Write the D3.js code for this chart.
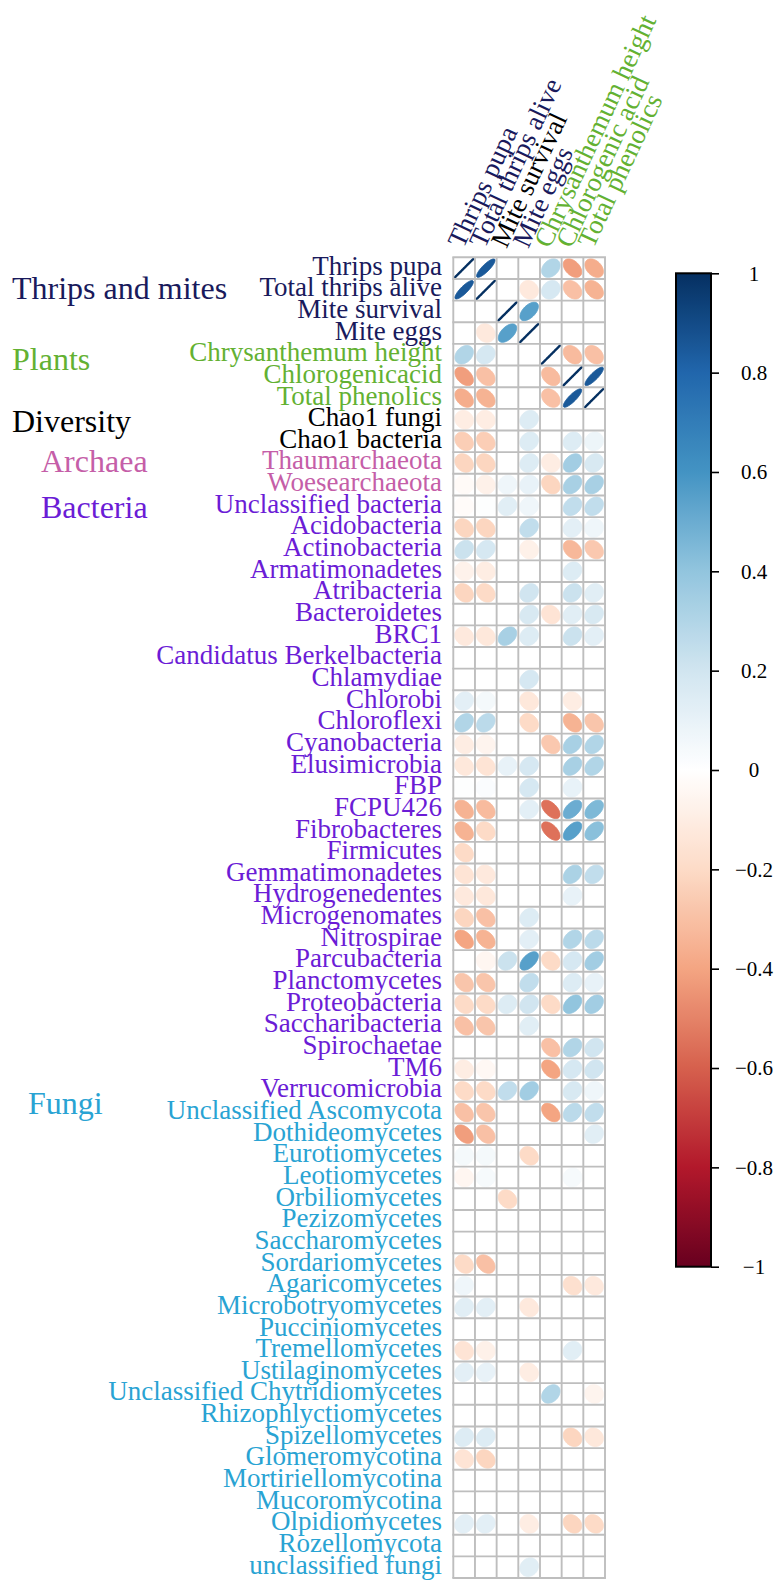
<!DOCTYPE html>
<html><head><meta charset="utf-8">
<script src="https://cdn.jsdelivr.net/npm/d3@7"></script>
<style>
body{margin:0;background:#fff}
svg{display:block}
text{font-family:"Liberation Serif","Times New Roman",serif}
</style>
</head><body>
<svg id="chart" width="776" height="1581"></svg>
<script>
const _ = null;

const rowLabels = ["Thrips pupa","Total thrips alive","Mite survival","Mite eggs",
"Chrysanthemum height","Chlorogenicacid","Total phenolics","Chao1 fungi","Chao1 bacteria",
"Thaumarchaeota","Woesearchaeota","Unclassified bacteria","Acidobacteria","Actinobacteria",
"Armatimonadetes","Atribacteria","Bacteroidetes","BRC1","Candidatus Berkelbacteria","Chlamydiae",
"Chlorobi","Chloroflexi","Cyanobacteria","Elusimicrobia","FBP","FCPU426","Fibrobacteres",
"Firmicutes","Gemmatimonadetes","Hydrogenedentes","Microgenomates","Nitrospirae","Parcubacteria",
"Planctomycetes","Proteobacteria","Saccharibacteria","Spirochaetae","TM6","Verrucomicrobia",
"Unclassified Ascomycota","Dothideomycetes","Eurotiomycetes","Leotiomycetes","Orbiliomycetes",
"Pezizomycetes","Saccharomycetes","Sordariomycetes","Agaricomycetes","Microbotryomycetes",
"Pucciniomycetes","Tremellomycetes","Ustilaginomycetes","Unclassified Chytridiomycetes",
"Rhizophlyctiomycetes","Spizellomycetes","Glomeromycotina","Mortiriellomycotina","Mucoromycotina",
"Olpidiomycetes","Rozellomycota","unclassified fungi"];

const colLabels = ["Thrips pupa","Total thrips alive","Mite survival","Mite eggs",
"Chrysanthemum height","Chlorogenic acid","Total phenolics"];

// group of each row label
const rowGroups = [].concat(
  Array(4).fill("tm"), Array(3).fill("pl"), Array(2).fill("dv"),
  Array(2).fill("ar"), Array(28).fill("ba"), Array(22).fill("fu"));
// group of each column label
const colGroups = ["tm","tm","dv","tm","pl","pl","pl"];

const groupNames = ["Thrips and mites","Plants","Diversity","Archaea","Bacteria","Fungi"];
const groupKeys  = ["tm","pl","dv","ar","ba","fu"];

// correlation values, one array per column (null = blank / not significant)
const thripsPupa = [1, 0.85, _, _, 0.3, -0.42, -0.37, -0.1, -0.25, -0.22,
 -0.03, -0.02, -0.22, 0.22, -0.07, -0.22, _, -0.12, _, _,
 0.12, 0.3, -0.1, -0.13, 0.01, -0.35, -0.35, -0.2, -0.15, -0.12,
 -0.22, -0.4, _, -0.28, -0.2, -0.3, _, -0.1, -0.2, -0.3,
 -0.42, 0.05, -0.05, _, _, _, -0.2, 0.07, 0.13, _,
 -0.15, 0.12, _, _, 0.15, -0.15, _, _, 0.12, _,
 _];
const totalThrips = [0.85, 1, _, -0.12, 0.18, -0.3, -0.35, -0.1, -0.25, -0.22,
 -0.08, 0.01, -0.22, 0.18, -0.1, -0.2, _, -0.13, _, _,
 0.05, 0.27, -0.06, -0.15, 0.02, -0.32, -0.2, _, -0.12, -0.13,
 -0.3, -0.35, -0.05, -0.28, -0.2, -0.28, _, -0.04, -0.2, -0.28,
 -0.3, 0.05, 0.04, _, _, _, -0.3, _, 0.12, _,
 -0.08, 0.1, _, _, 0.15, -0.22, _, _, 0.12, _,
 _];
const miteSurvival = [_, _, 1, 0.55, _, _, _, _, _, _,
 0.07, 0.13, _, _, _, _, _, 0.33, _, _,
 _, _, _, 0.1, _, _, _, _, _, _,
 _, _, 0.22, _, 0.15, _, _, _, 0.25, _,
 _, _, _, -0.2, _, _, _, _, _, _,
 _, _, _, _, _, _, _, _, _, _,
 _];
const miteEggs = [_, -0.12, 0.55, 1, _, _, _, 0.15, 0.15, 0.15,
 0.1, 0.07, 0.25, -0.08, _, 0.2, 0.17, 0.15, _, 0.18,
 -0.13, -0.2, _, 0.18, 0.18, 0.12, _, _, _, _,
 0.15, 0.12, 0.55, 0.25, 0.2, 0.13, _, _, 0.35, _,
 _, -0.2, _, _, _, _, _, _, -0.12, _,
 _, -0.1, _, _, _, _, _, _, -0.1, _,
 0.13];
const chrysHeight = [0.3, 0.18, _, _, 1, -0.32, -0.3, _, _, -0.1,
 -0.22, _, _, _, _, _, -0.15, _, _, _,
 _, _, -0.27, _, _, -0.55, -0.55, _, _, _,
 _, _, -0.2, _, -0.2, _, -0.3, -0.4, _, -0.4,
 _, _, _, _, _, _, _, _, _, _,
 _, _, 0.3, _, _, _, _, _, _, _,
 _];
const chlorogenic = [-0.42, -0.3, _, _, -0.32, 1, 0.85, _, 0.15, 0.35,
 0.33, 0.25, 0.12, -0.33, 0.15, 0.22, 0.13, 0.22, _, _,
 -0.1, -0.35, 0.33, 0.33, 0.1, 0.5, 0.55, _, 0.32, 0.1,
 _, 0.3, 0.18, 0.15, 0.4, _, 0.3, 0.18, 0.17, 0.27,
 _, _, 0.04, _, _, _, _, -0.17, _, _,
 0.13, _, _, _, -0.22, _, _, _, -0.22, _,
 _];
const phenolics = [-0.37, -0.35, _, _, -0.3, 0.85, 1, _, 0.08, 0.17,
 0.33, 0.25, 0.07, -0.27, _, 0.13, 0.17, 0.12, _, _,
 _, -0.28, 0.3, 0.3, _, 0.45, 0.42, _, 0.25, _,
 _, 0.27, 0.35, 0.1, 0.35, _, 0.2, 0.2, 0.07, 0.25,
 0.13, _, _, _, _, _, _, -0.12, _, _,
 _, _, -0.06, _, -0.13, _, _, _, -0.2, _,
 _];

const columns = [thripsPupa, totalThrips, miteSurvival, miteEggs, chrysHeight, chlorogenic, phenolics];
const legendTicks = [-1, -0.8, -0.6, -0.4, -0.2, 0, 0.2, 0.4, 0.6, 0.8, 1];

// ---------- styles ----------
const groupColor = {tm:"#191a5c", pl:"#63b132", dv:"#000000", ar:"#c55ea8", ba:"#6b1cd6", fu:"#29a3d3"};
const groupPos = {tm:[12,299], pl:[12,370], dv:[12,432], ar:[41,472], ba:[41,518], fu:[28,1114]};
const palette = ["#67001F","#B2182B","#D6604D","#F4A582","#FDDBC7","#FFFFFF",
                 "#D1E5F0","#92C5DE","#4393C3","#2166AC","#053061"];

const svg = d3.select("#chart");
const gridL = 453.3, gridR = 605, gridT = 257.3, gridB = 1578;

const x = d3.scaleBand().domain(d3.range(colLabels.length)).range([gridL, gridR]);
const y = d3.scaleBand().domain(d3.range(rowLabels.length)).range([gridT, gridB]);
const color = d3.scaleLinear()
  .domain(palette.map((c,i) => -1 + i * 2 / (palette.length - 1)))
  .range(palette).interpolate(d3.interpolateRgb);

// cells
const cells = [];
columns.forEach((col, j) => col.forEach((v, i) => { if (v !== null) cells.push({i, j, v}); }));

function ellipsePath(d) {
  const cx = x(d.j) + x.bandwidth() / 2, cy = y(d.i) + y.bandwidth() / 2;
  const s = 0.85 * x.bandwidth();
  const a = Math.acos(Math.max(-1, Math.min(1, d.v)));
  const pts = d3.range(99).map(k => {
    const t = k / 98 * 2 * Math.PI;
    return [cx + s * Math.cos(t + a / 2) / 2, cy - s * Math.cos(t - a / 2) / 2];
  });
  return d3.line()(pts) + "Z";
}

svg.append("g").selectAll("path").data(cells).join("path")
  .attr("d", ellipsePath)
  .attr("fill", d => color(d.v))
  .attr("stroke", d => color(d.v))
  .attr("stroke-width", d => Math.abs(d.v) === 1 ? 2.4 : 1)
  .attr("stroke-linejoin", "round");

// grid
const grid = svg.append("g").attr("stroke", "#bebebe").attr("stroke-width", 1.9);
d3.range(colLabels.length + 1).forEach(k => {
  const xx = k < colLabels.length ? x(k) : gridR;
  grid.append("line").attr("x1", xx).attr("x2", xx).attr("y1", gridT).attr("y2", gridB);
});
d3.range(rowLabels.length + 1).forEach(k => {
  const yy = k < rowLabels.length ? y(k) : gridB;
  grid.append("line").attr("x1", gridL - 0.95).attr("x2", gridR + 0.95).attr("y1", yy).attr("y2", yy);
});

// row labels
svg.append("g").selectAll("text").data(rowLabels).join("text")
  .attr("x", 442)
  .attr("y", (d, i) => y(i) + y.bandwidth() / 2 + 6.5)
  .attr("text-anchor", "end")
  .attr("font-size", 27)
  .attr("fill", (d, i) => groupColor[rowGroups[i]])
  .text(d => d);

// column labels
svg.append("g").selectAll("text").data(colLabels).join("text")
  .attr("transform", (d, j) => `translate(${x(j) + x.bandwidth() / 2 - 1},${gridT - 8}) rotate(-65)`)
  .attr("font-size", 27)
  .attr("fill", (d, j) => groupColor[colGroups[j]])
  .text(d => d);

// group labels
svg.append("g").selectAll("text").data(groupNames).join("text")
  .attr("x", (d, i) => groupPos[groupKeys[i]][0])
  .attr("y", (d, i) => groupPos[groupKeys[i]][1])
  .attr("font-size", 32)
  .attr("fill", (d, i) => groupColor[groupKeys[i]])
  .text(d => d);

// colour legend
const cbL = 676, cbR = 711, cbT = 273.3, cbB = 1266.7;
const cy = d3.scaleLinear().domain([-1, 1]).range([cbB, cbT]);
const grad = svg.append("defs").append("linearGradient")
  .attr("id", "cbgrad").attr("x1", 0).attr("x2", 0).attr("y1", 1).attr("y2", 0);
d3.range(0, 101).forEach(k => {
  const v = -1 + k / 50;
  grad.append("stop").attr("offset", k / 100).attr("stop-color", color(v));
});
svg.append("rect").attr("x", cbL).attr("y", cbT).attr("width", cbR - cbL).attr("height", cbB - cbT)
  .attr("fill", "url(#cbgrad)").attr("stroke", "#000").attr("stroke-width", 2);

const axis = d3.axisRight(cy).tickValues(legendTicks).tickSize(8)
  .tickFormat(d => d === 0 ? "0" : d3.format("~g")(d));
const ag = svg.append("g").attr("transform", `translate(${cbR},0)`).call(axis);
ag.select(".domain").remove();
ag.selectAll(".tick line").attr("stroke", "#000").attr("stroke-width", 1.6);
ag.selectAll(".tick text")
  .attr("x", 43).attr("text-anchor", "middle")
  .attr("font-family", "'Liberation Serif', serif")
  .attr("font-size", 21).attr("fill", "#000");
</script>
</body></html>
